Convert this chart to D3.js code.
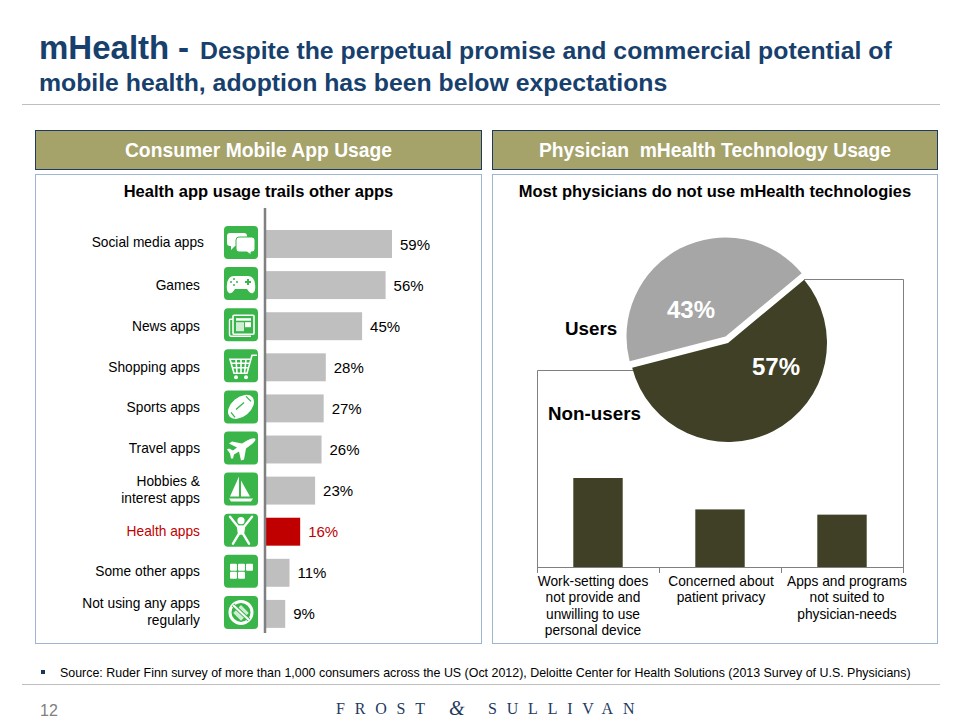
<!DOCTYPE html>
<html>

<head>
  <meta charset='utf-8'>
  <title>mHealth adoption</title>
  <script src="https://cdnjs.cloudflare.com/ajax/libs/d3/7.8.5/d3.min.js"></script>
  <style>
    html, body { margin: 0; padding: 0; background: #fff; }
    svg { display: block; }
    text { font-family: "Liberation Sans", Arial, sans-serif; }
  </style>
</head>

<body>
  <svg width="969" height="725" id="mySVG"></svg>
  <script>
    // consumer app usage
    const appCategories = ['Social media apps', 'Games', 'News apps', 'Shopping apps', 'Sports apps', 'Travel apps',
      'Hobbies &|interest apps', 'Health apps', 'Some other apps', 'Not using any apps|regularly'];
    const appValues = [59, 56, 45, 28, 27, 26, 23, 16, 11, 9];
    const appIcons = ['chat', 'game', 'news', 'cart', 'ball', 'plane', 'boat', 'person', 'grid', 'none'];
    const highlightApp = 'Health apps';

    // physician usage
    const pieLabels = ['Non-users', 'Users'];
    const pieValues = [57, 43];

    // reasons for non-use, bars carry no numbers in the picture so these are estimated
    const reasonCategories = ['Work-setting does|not provide and|unwilling to use|personal device',
      'Concerned about|patient privacy', 'Apps and programs|not suited to|physician-needs'];
    const reasonValues = [34, 22, 20];

    const navy = '#17406D';
    const olive = '#A5A26A';
    const darkOlive = '#404027';
    const green = '#39B54A';
    const red = '#C00000';
    const lineGrey = '#808080';

    const svg = d3.select('#mySVG');

    // icon glyphs, drawn in the 34x33 box of the green tile
    const icon = {
      chat(g) {
        g.append('path').attr('fill', '#fff')
          .attr('d', 'M6,7H20Q23,7 23,10V17Q23,20 20,20H11L7,24V20H6Q3,20 3,17V10Q3,7 6,7Z');
        g.append('path').attr('fill', '#fff').attr('stroke', green).attr('stroke-width', 1)
          .attr('d', 'M15,11H28Q31,11 31,14V23Q31,26 28,26H27V29L23,26H15Q12,26 12,23V14Q12,11 15,11Z');
      },
      game(g) {
        g.append('path').attr('fill', '#fff')
          .attr('d', 'M10,9H24Q30,9 31,17Q32,24 29,26Q26,27 23,22H11Q8,27 5,26Q2,24 3,17Q4,9 10,9Z');
        g.append('path').attr('stroke', green).attr('stroke-width', 2).attr('fill', 'none').attr('d', 'M24,12V18M21,15H27');
        g.selectAll(null).data([[10, 12], [7, 15], [13, 15], [10, 18]]).join('circle')
          .attr('cx', d => d[0]).attr('cy', d => d[1]).attr('r', 1).attr('fill', green);
      },
      news(g) {
        g.append('rect').attr('x', 9).attr('y', 7).attr('width', 21).attr('height', 19).attr('rx', 1)
          .attr('fill', 'none').attr('stroke', '#fff').attr('stroke-width', 1.6);
        g.append('path').attr('d', 'M9,11H6Q5.5,11 5.5,12V26Q5.5,28 7,28H27').attr('fill', 'none').attr('stroke', '#fff').attr('stroke-width', 1.4);
        g.append('rect').attr('x', 12).attr('y', 10).attr('width', 15).attr('height', 2.5).attr('fill', '#fff');
        g.append('rect').attr('x', 12).attr('y', 14).attr('width', 8).attr('height', 9).attr('fill', '#cfeed4');
        g.append('rect').attr('x', 21).attr('y', 14).attr('width', 6).attr('height', 5).attr('fill', '#fff');
      },
      cart(g) {
        g.append('path').attr('fill', 'none').attr('stroke', '#fff').attr('stroke-width', 1.6)
          .attr('d', 'M33,6H28L23,24H10L6,10H26M7.5,14H25M9,18.5H24M12,10L13,24M17,10V24M22,10L20.5,24');
        g.append('circle').attr('cx', 12).attr('cy', 28).attr('r', 2).attr('fill', '#fff');
        g.append('circle').attr('cx', 22).attr('cy', 28).attr('r', 2).attr('fill', '#fff');
      },
      ball(g) {
        g.append('ellipse').attr('cx', 17).attr('cy', 16.5).attr('rx', 15).attr('ry', 9.5)
          .attr('transform', 'rotate(-40 17 16.5)').attr('fill', '#fff');
        g.append('path').attr('fill', 'none').attr('stroke', green).attr('stroke-width', 1.3)
          .attr('d', 'M7,22L11,27M22,6L27,11M12,19L20,12');
      },
      plane(g) {
        g.append('path').attr('fill', '#fff')
          .attr('d', 'M31,7Q33,9 26,14L22,17L20,28L17,29L15,20L10,23L9,27L7,27L6,22L3,18L5,17L9,19L13,16L5,12L8,10L18,12L23,9Q29,6 31,7Z');
      },
      boat(g) {
        g.append('path').attr('fill', '#fff').attr('d', 'M15,4V24H6ZM17,8L26,24H17Z');
        g.append('path').attr('fill', '#fff').attr('d', 'M5,26H29L27,29H7Z');
      },
      person(g) {
        g.append('circle').attr('cx', 17).attr('cy', 7).attr('r', 3.6).attr('fill', '#fff');
        g.append('path').attr('fill', 'none').attr('stroke', '#fff').attr('stroke-width', 2.4).attr('stroke-linecap', 'round')
          .attr('d', 'M6,3L14,13H20L28,3M14,13L15,20L9,30M20,13L19,20L25,30');
        g.append('rect').attr('x', 14).attr('y', 12).attr('width', 6).attr('height', 9).attr('fill', '#fff');
      },
      grid(g) {
        [[6, 9], [14, 9], [22, 9], [6, 17], [14, 17]].forEach(d => {
          g.append('rect').attr('x', d[0]).attr('y', d[1]).attr('width', 7).attr('height', 7).attr('rx', 1).attr('fill', '#fff');
        });
      },
      none(g) {
        g.append('circle').attr('cx', 17).attr('cy', 16.5).attr('r', 11).attr('fill', 'none').attr('stroke', '#fff').attr('stroke-width', 3);
        g.append('rect').attr('x', 11.5).attr('y', 11.5).attr('width', 11).attr('height', 11).attr('fill', '#cfeed4')
          .attr('transform', 'rotate(45 17 17)');
        g.append('line').attr('x1', 9).attr('y1', 9).attr('x2', 25).attr('y2', 24).attr('stroke', green).attr('stroke-width', 4);
        g.append('line').attr('x1', 9).attr('y1', 9).attr('x2', 25).attr('y2', 24).attr('stroke', '#fff').attr('stroke-width', 2);
      }
    };

    function txt(parent, x, y, s, size, opts = {}) {
      return parent.append('text')
        .attr('x', x).attr('y', y)
        .attr('font-size', size)
        .attr('font-weight', opts.bold ? 'bold' : 'normal')
        .attr('text-anchor', opts.anchor || 'start')
        .attr('fill', opts.fill || '#000')
        .text(s);
    }

    // multi-line labels use | as a line break
    function lines(parent, x, y, s, size, lh, anchor, fill) {
      s.split('|').forEach((l, i) => txt(parent, x, y + i * lh, l, size, { anchor: anchor, fill: fill }));
    }

    // header
    txt(svg, 39, 59, 'mHealth', 33, { bold: true, fill: navy });
    txt(svg, 178, 59, '-', 33, { bold: true, fill: navy });
    txt(svg, 200, 59, 'Despite the perpetual promise and commercial potential of', 24.8, { bold: true, fill: navy });
    txt(svg, 39, 91, 'mobile health, adoption has been below expectations', 24.8, { bold: true, fill: navy });
    svg.append('line').attr('x1', 22).attr('x2', 940).attr('y1', 104.5).attr('y2', 104.5).attr('stroke', '#bfbfbf');

    // panels
    [
      { x: 35.5, w: 446, head: 'Consumer Mobile App Usage', sub: 'Health app usage trails other apps' },
      { x: 492.5, w: 445, head: 'Physician  mHealth Technology Usage', sub: 'Most physicians do not use mHealth technologies' }
    ].forEach(p => {
      svg.append('rect').attr('x', p.x).attr('y', 130.5).attr('width', p.w).attr('height', 39)
        .attr('fill', olive).attr('stroke', '#1F3A5F');
      svg.append('rect').attr('x', p.x).attr('y', 174.5).attr('width', p.w).attr('height', 469)
        .attr('fill', '#fff').attr('stroke', '#9DB4D3');
      txt(svg, p.x + p.w / 2, 157, p.head, 19.3, { bold: true, anchor: 'middle', fill: '#fff' })
        .style('white-space', 'pre');
      txt(svg, p.x + p.w / 2, 197, p.sub, 16.5, { bold: true, anchor: 'middle' });
    });

    // ---- left: horizontal bars
    const xApp = d3.scaleLinear().domain([0, 59]).range([266, 392]);
    const yApp = d3.scaleBand().domain(appCategories).range([223.45, 634.45]).paddingInner(0.32).paddingOuter(0.16);

    const rows = svg.append('g').selectAll('g')
      .data(appCategories.map((c, i) => ({ c: c, v: appValues[i], icon: appIcons[i], i: i })))
      .join('g');

    rows.append('rect')
      .attr('x', xApp(0))
      .attr('y', d => yApp(d.c))
      .attr('width', d => xApp(d.v) - xApp(0))
      .attr('height', yApp.bandwidth())
      .attr('fill', d => d.c === highlightApp ? red : '#BFBFBF');

    rows.append('text')
      .attr('x', d => xApp(d.v) + 8)
      .attr('y', d => yApp(d.c) + yApp.bandwidth() / 2 + 5.5)
      .attr('font-size', 15)
      .attr('fill', d => d.c === highlightApp ? red : '#000')
      .text(d => d.v + '%');

    // rows 2-5, 7 and 8 sit a touch lower on the slide
    const labelNudge = [0, 2, 2, 2, 1, 0, 1, 1, 0, 0];
    rows.each(function (d) {
      const cy = yApp(d.c) + yApp.bandwidth() / 2 - 1.5;
      const g = d3.select(this);
      const n = d.c.split('|').length;
      const rx = d.c === 'Social media apps' ? 204 : 200;
      lines(g, rx, cy + (n === 1 ? 4.5 : -4) + labelNudge[d.i], d.c, 13.75, 17, 'end', d.c === highlightApp ? red : '#000');
      const ic = g.append('g').attr('transform', `translate(224,${cy - 16.5})`);
      ic.append('rect').attr('width', 34).attr('height', 33).attr('rx', 4).attr('fill', green);
      icon[d.icon](ic);
    });

    svg.append('line').attr('x1', 265).attr('x2', 265).attr('y1', 208).attr('y2', 633)
      .attr('stroke', lineGrey).attr('stroke-width', 2.5);

    // ---- right: pie
    const pieStart = 50.3 * Math.PI / 180;
    const pie = d3.pie().sort(null).startAngle(pieStart).endAngle(pieStart + 2 * Math.PI);
    const arc = d3.arc().innerRadius(0).outerRadius(99);
    const slices = pie(pieValues);

    const xReason = d3.scaleBand().domain(reasonCategories).range([537, 903]).paddingInner(0.595).paddingOuter(0.2975);
    const yReason = d3.scaleLinear().domain([0, 34]).range([567, 478]);

    // bracket linking the non-users slice to the reasons chart
    svg.append('path')
      .attr('d', 'M634,370.5H537.5V567M804,279.5H903.5V567')
      .attr('fill', 'none').attr('stroke', lineGrey);

    svg.append('g').selectAll('path')
      .data(slices)
      .join('path')
      .attr('d', arc)
      .attr('transform', (d, i) => i === 0 ? 'translate(728,343)' : 'translate(725.5,336.5)')
      .attr('fill', (d, i) => i === 0 ? darkOlive : '#A6A6A6');

    txt(svg, 776, 375, pieValues[0] + '%', 24, { bold: true, anchor: 'middle', fill: '#fff' });
    txt(svg, 691, 318, pieValues[1] + '%', 24, { bold: true, anchor: 'middle', fill: '#fff' });
    txt(svg, 548, 420, pieLabels[0], 18.8, { bold: true });
    txt(svg, 565, 335, pieLabels[1], 18.8, { bold: true });

    // ---- right: reasons bars
    svg.append('g').selectAll('rect')
      .data(reasonCategories)
      .join('rect')
      .attr('x', d => xReason(d))
      .attr('y', (d, i) => yReason(reasonValues[i]))
      .attr('width', xReason.bandwidth())
      .attr('height', (d, i) => yReason(0) - yReason(reasonValues[i]))
      .attr('fill', darkOlive);

    svg.append('line').attr('x1', 537).attr('x2', 903.5).attr('y1', 567.5).attr('y2', 567.5).attr('stroke', lineGrey);
    d3.range(4).forEach(i => {
      const tx = Math.round(xReason.range()[0] + i * xReason.step()) + 0.5;
      svg.append('line').attr('x1', tx).attr('x2', tx).attr('y1', 567).attr('y2', 573).attr('stroke', lineGrey);
    });
    const reasonLabelShift = [-5, 1, 5];
    reasonCategories.forEach((c, i) => {
      lines(svg, xReason(c) + xReason.bandwidth() / 2 + reasonLabelShift[i], 586, c, 13.75, 16.4, 'middle');
    });

    // ---- footer
    svg.append('rect').attr('x', 41).attr('y', 670).attr('width', 4).attr('height', 4).attr('fill', '#17375E');
    txt(svg, 60, 677, 'Source: Ruder Finn survey of more than 1,000 consumers across the US (Oct 2012), Deloitte Center for Health Solutions (2013 Survey of U.S. Physicians)', 12.43);
    svg.append('line').attr('x1', 22).attr('x2', 940).attr('y1', 684.5).attr('y2', 684.5).attr('stroke', '#bfbfbf');
    txt(svg, 40, 716, '12', 16, { fill: '#808080' });

    const serif = '"Liberation Serif", serif';
    txt(svg, 336, 714, 'FROST', 16, { fill: '#1F3A5F' }).attr('letter-spacing', 9.8).style('font-family', serif);
    txt(svg, 449, 715, '&', 20, { fill: '#1F3A5F' }).style('font-family', serif).style('font-style', 'italic');
    txt(svg, 488, 714, 'SULLIVAN', 16, { fill: '#1F3A5F' }).attr('letter-spacing', 9.8).style('font-family', serif);
  </script>

</body>

</html>
